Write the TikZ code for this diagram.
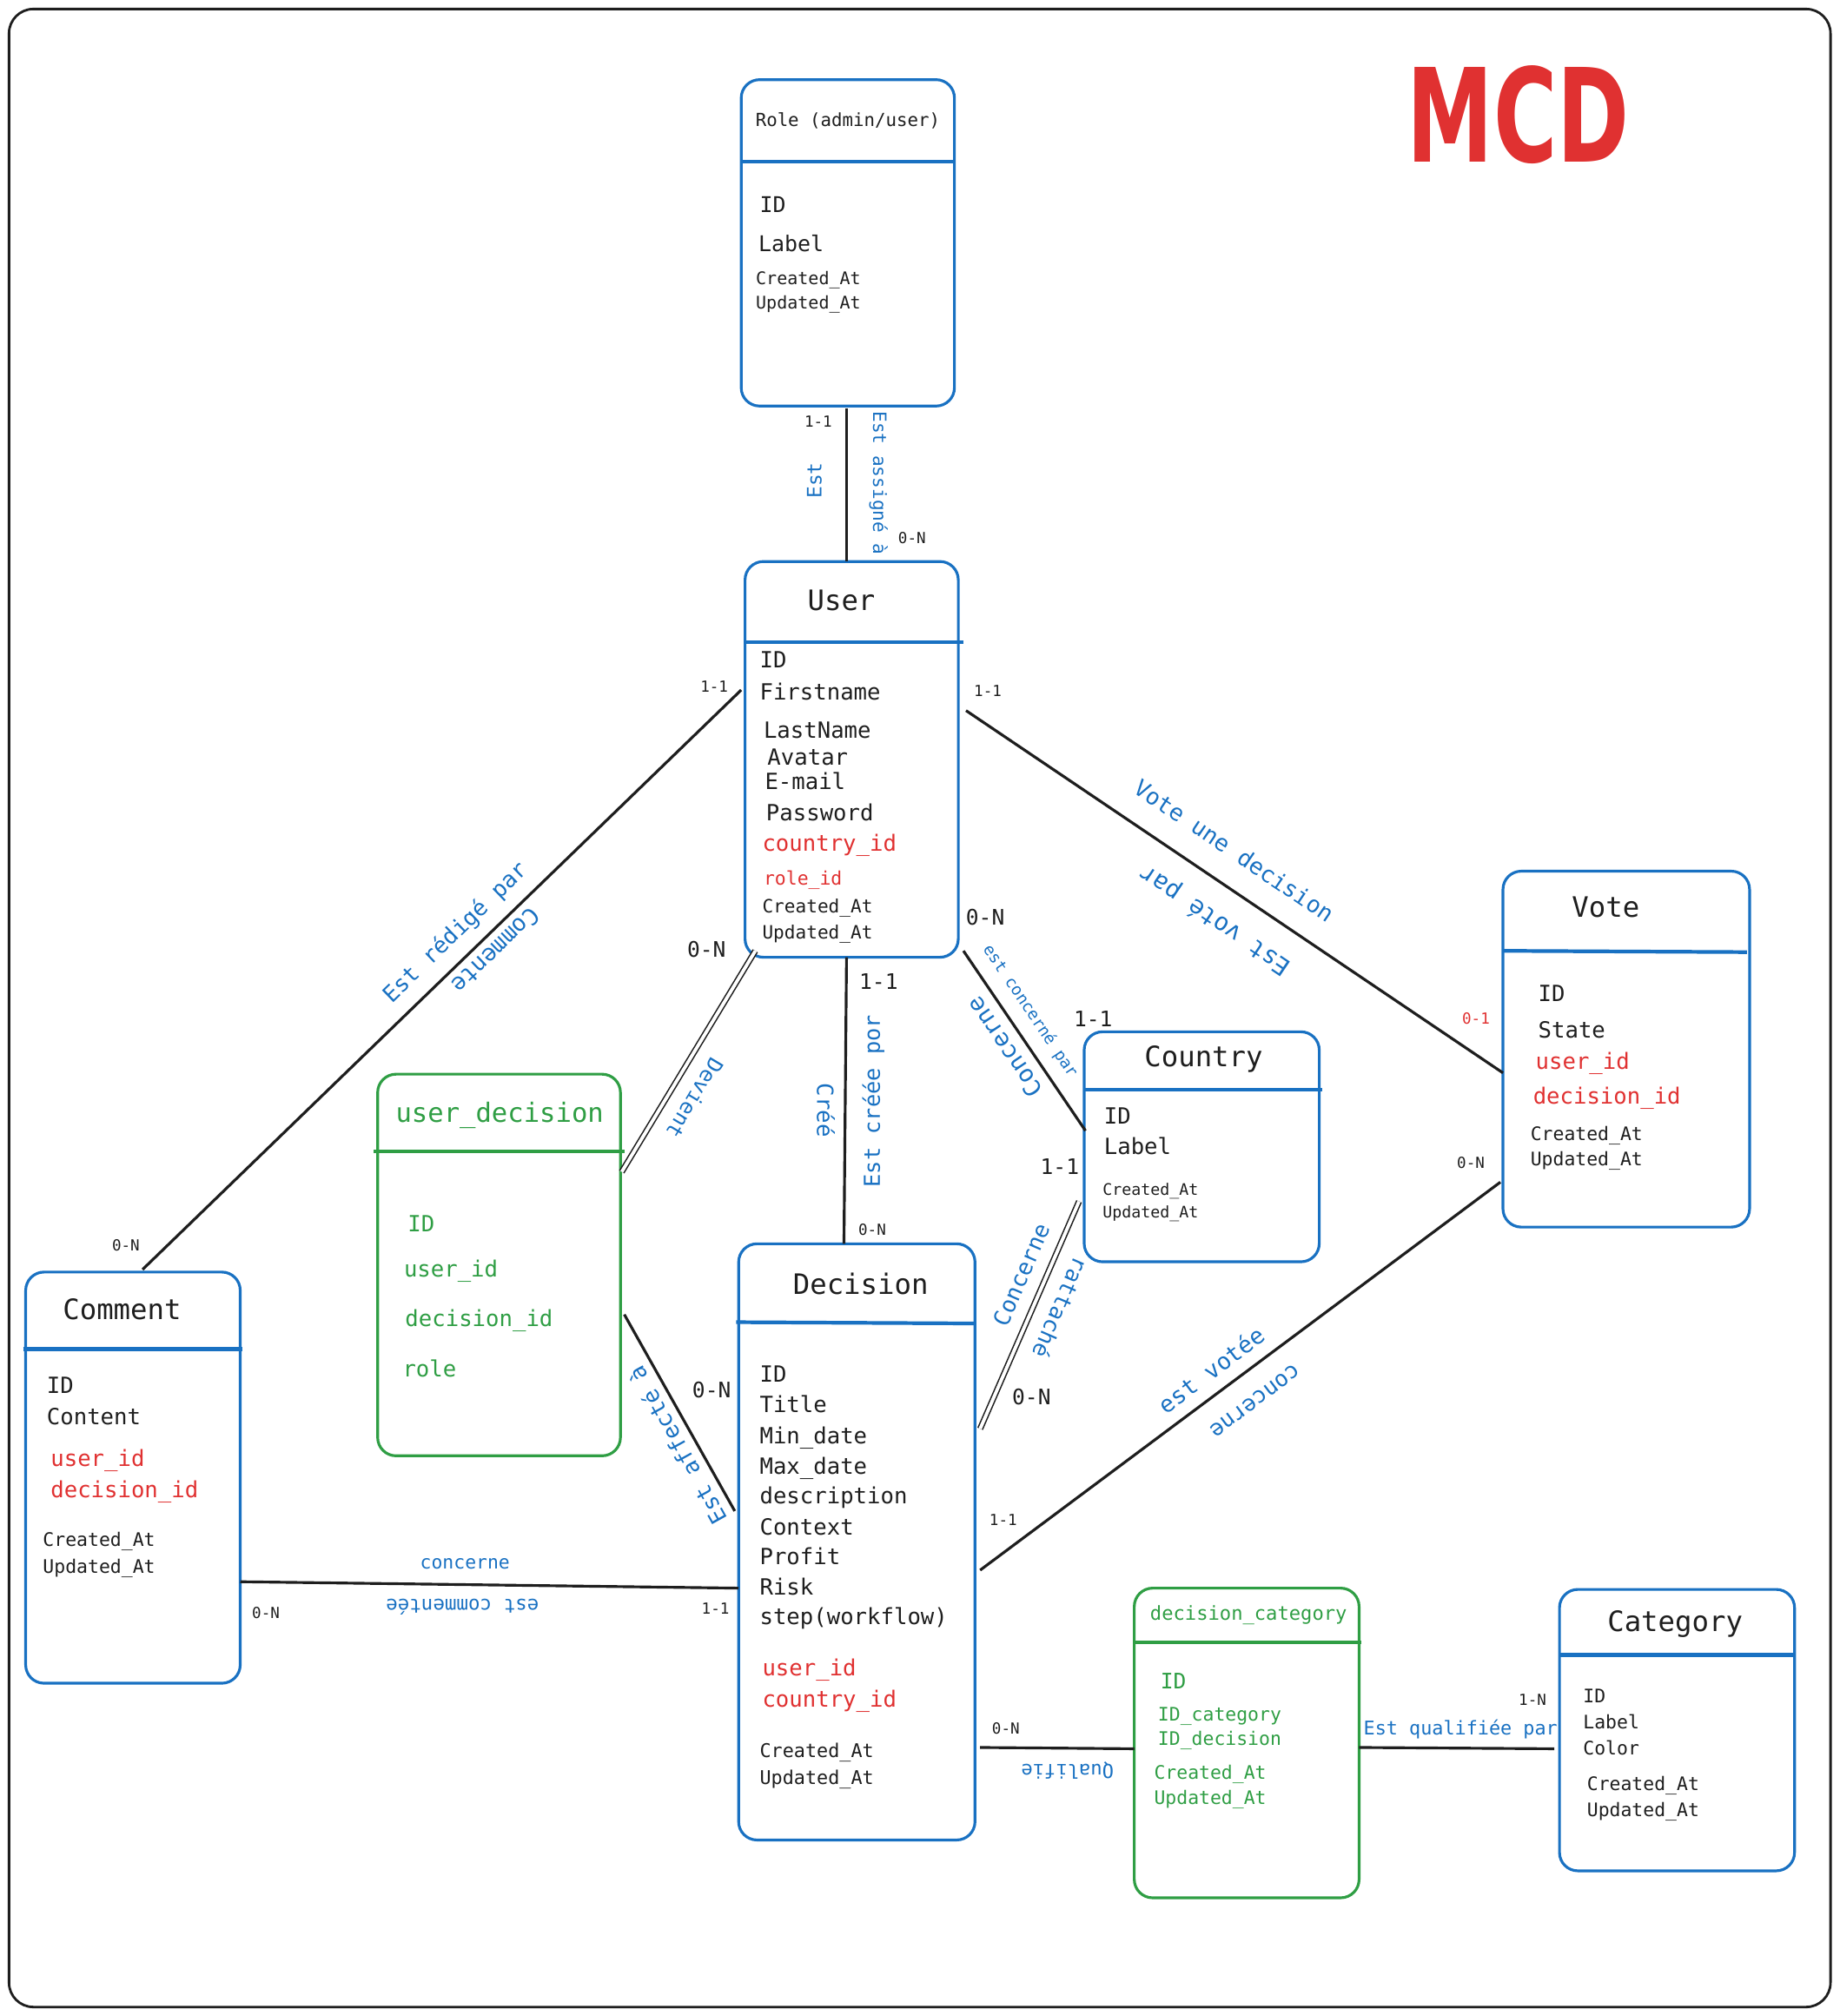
\documentclass[tikz,border=0pt]{standalone}
\usepackage{fontspec}
\usepackage{graphicx}
\setmainfont{DejaVu Sans Mono}
\newfontfamily\mcdfont{DejaVu Sans}
\usetikzlibrary{fit}
\definecolor{eblue}{HTML}{1971C2}
\definecolor{ered}{HTML}{E03131}
\definecolor{egreen}{HTML}{2F9E44}
\definecolor{eblack}{HTML}{1E1E1E}
\begin{document}
\begin{tikzpicture}[x=0.01479cm,y=-0.01479cm,
  ent/.style={draw=#1, line width=0.9pt, rounded corners=6pt, inner sep=0pt},
  hdr/.style={draw=#1, line width=1.2pt},
  link/.style={draw=eblack, line width=0.9pt},
  dlink/.style={draw=eblack, line width=0.45pt, double, double distance=1.1pt},
  fs/.style={font=\fontsize{#1}{#1}\selectfont},
  ttl/.style={inner sep=0pt, text=eblack, fs=9.2},
  attr/.style={anchor=mid west, inner sep=0pt, text=eblack, fs=7.3},
  sm/.style={anchor=mid west, inner sep=0pt, text=eblack, fs=6},
  card/.style={inner sep=0pt, text=eblack, fs=5},
  bcard/.style={inner sep=0pt, text=eblack, fs=7},
  lbl/.style={inner sep=0pt, text=eblue, fs=7.3}
]
\useasboundingbox (0,0) rectangle (1432,1569);
\draw[eblack, line width=0.8pt, rounded corners=8pt] (7,7) rectangle (1425,1562);

% MCD
\node[text=ered, inner sep=0pt] (mcd) at (1182,89) {\resizebox{2.56cm}{1.11cm}{\mcdfont\bfseries MCD}};

% Role
\node[ent=eblue, fit={(577,62)(743,316)}] (role) {};
\draw[hdr=eblue] (577,126) -- (743,126);
\node[ttl, fs=5.9] (roleT) at (660,94) {Role (admin/user)};
\node[attr, fs=7.1] (role1) at (591,159) {ID};
\node[attr, fs=7.1] (role2) at (590,189) {Label};
\node[sm, fs=5.7] (role3) at (588,215) {Created\_At};
\node[sm, fs=5.7] (role4) at (588,234) {Updated\_At};

% User
\node[ent=eblue, fit={(580,437)(746,745)}] (user) {};
\draw[hdr=eblue] (580,500) -- (750,500);
\node[ttl] (userT) at (655,467) {User};
\node[attr] (user1) at (591,513) {ID};
\node[attr] (user2) at (591,538) {Firstname};
\node[attr] (user3) at (594,568) {LastName};
\node[attr] (user4) at (597,589) {Avatar};
\node[attr] (user5) at (595,608) {E-mail};
\node[attr] (user6) at (596,632) {Password};
\node[attr, text=ered] (user7) at (593,656) {country\_id};
\node[attr, text=ered, fs=6.1] (user8) at (594,682) {role\_id};
\node[sm] (user9) at (593,704) {Created\_At};
\node[sm] (user10) at (593,724) {Updated\_At};

% Vote
\node[ent=eblue, fit={(1170,678)(1362,955)}] (vote) {};
\draw[hdr=eblue] (1170,740) -- (1360,741);
\node[ttl] (voteT) at (1250,706) {Vote};
\node[attr] (vote1) at (1197,773) {ID};
\node[attr] (vote2) at (1197,801) {State};
\node[attr, text=ered] (vote3) at (1195,826) {user\_id};
\node[attr, text=ered] (vote4) at (1193,853) {decision\_id};
\node[sm, fs=6.1] (vote5) at (1191,881) {Created\_At};
\node[sm, fs=6.1] (vote6) at (1191,901) {Updated\_At};

% Country
\node[ent=eblue, fit={(844,803)(1027,982)}] (country) {};
\draw[hdr=eblue] (844,848) -- (1029,848);
\node[ttl] (countryT) at (937,824) {Country};
\node[attr] (country1) at (859,868) {ID};
\node[attr] (country2) at (859,892) {Label};
\node[sm, fs=5.2] (country3) at (858,924) {Created\_At};
\node[sm, fs=5.2] (country4) at (858,941) {Updated\_At};

% user_decision
\node[ent=egreen, fit={(294,836)(483,1133)}] (ud) {};
\draw[hdr=egreen] (291,896) -- (486,896);
\node[ttl, text=egreen, fs=8.7] (udT) at (389,868) {user\_decision};
\node[attr, text=egreen] (ud1) at (317,952) {ID};
\node[attr, text=egreen] (ud2) at (314,987) {user\_id};
\node[attr, text=egreen] (ud3) at (315,1026) {decision\_id};
\node[attr, text=egreen] (ud4) at (313,1065) {role};

% Comment
\node[ent=eblue, fit={(20,990)(187,1310)}] (comment) {};
\draw[hdr=eblue] (18,1050) -- (189,1050);
\node[ttl] (commentT) at (95,1019) {Comment};
\node[attr] (comment1) at (36,1078) {ID};
\node[attr] (comment2) at (36,1102) {Content};
\node[attr, text=ered] (comment3) at (39,1135) {user\_id};
\node[attr, text=ered] (comment4) at (39,1159) {decision\_id};
\node[sm, fs=6.1] (comment5) at (33,1197) {Created\_At};
\node[sm, fs=6.1] (comment6) at (33,1218) {Updated\_At};

% Decision
\node[ent=eblue, fit={(575,968)(759,1432)}] (decision) {};
\draw[hdr=eblue] (573,1029) -- (759,1030);
\node[ttl] (decisionT) at (670,999) {Decision};
\node[attr] (dec1) at (591,1069) {ID};
\node[attr] (dec2) at (591,1093) {Title};
\node[attr] (dec3) at (591,1117) {Min\_date};
\node[attr] (dec4) at (591,1141) {Max\_date};
\node[attr] (dec5) at (591,1164) {description};
\node[attr] (dec6) at (591,1188) {Context};
\node[attr] (dec7) at (591,1211) {Profit};
\node[attr] (dec8) at (591,1235) {Risk};
\node[attr] (dec9) at (591,1258) {step(workflow)};
\node[attr, text=ered] (dec10) at (593,1298) {user\_id};
\node[attr, text=ered] (dec11) at (593,1322) {country\_id};
\node[sm, fs=6.2] (dec12) at (591,1361) {Created\_At};
\node[sm, fs=6.2] (dec13) at (591,1382) {Updated\_At};

% decision_category
\node[ent=egreen, fit={(883,1236)(1058,1477)}] (dc) {};
\draw[hdr=egreen] (883,1278) -- (1060,1278);
\node[ttl, text=egreen, fs=6.3] (dcT) at (972,1257) {decision\_category};
\node[attr, text=egreen, fs=7] (dc1) at (903,1308) {ID};
\node[sm, text=egreen, fs=6.1] (dc2) at (901,1333) {ID\_category};
\node[sm, text=egreen, fs=6.1] (dc3) at (901,1352) {ID\_decision};
\node[sm, text=egreen, fs=6.1] (dc4) at (898,1378) {Created\_At};
\node[sm, text=egreen, fs=6.1] (dc5) at (898,1398) {Updated\_At};

% Category
\node[ent=eblue, fit={(1214,1237)(1397,1456)}] (category) {};
\draw[hdr=eblue] (1214,1288) -- (1397,1288);
\node[ttl] (categoryT) at (1304,1264) {Category};
\node[sm, fs=6.1] (cat1) at (1232,1319) {ID};
\node[sm, fs=6.1] (cat2) at (1232,1339) {Label};
\node[sm, fs=6.1] (cat3) at (1232,1359) {Color};
\node[sm, fs=6.1] (cat4) at (1235,1387) {Created\_At};
\node[sm, fs=6.1] (cat5) at (1235,1407) {Updated\_At};

% connector end points
\coordinate (roleS) at (659,318);   \coordinate (userN) at (659,437);
\coordinate (userW) at (577,537);   \coordinate (commentN) at (111,988);
\coordinate (userSW) at (588,740);  \coordinate (udNE) at (484,912);
\coordinate (userS) at (659,745);   \coordinate (decisionN) at (657,968);
\coordinate (userSE) at (750,740);  \coordinate (countryW) at (845,880);
\coordinate (userE) at (752,553);   \coordinate (voteW) at (1170,835);
\coordinate (decisionNE) at (763,1112); \coordinate (countrySW) at (840,935);
\coordinate (decisionE) at (763,1222);  \coordinate (voteSW) at (1168,920);
\coordinate (udE) at (486,1023);    \coordinate (decisionW) at (572,1176);
\coordinate (commentE) at (187,1231); \coordinate (decisionW2) at (575,1236);
\coordinate (decisionE2) at (763,1360); \coordinate (dcW) at (883,1361);
\coordinate (dcE) at (1058,1360);   \coordinate (categoryW) at (1210,1361);

% connectors
\draw[link] (roleS) -- (userN);
\draw[link] (userW) -- (commentN);
\draw[dlink] (userSW) -- (udNE);
\draw[link] (userS) -- (decisionN);
\draw[link] (userSE) -- (countryW);
\draw[link] (userE) -- (voteW);
\draw[dlink] (decisionNE) -- (countrySW);
\draw[link] (decisionE) -- (voteSW);
\draw[link] (udE) -- (decisionW);
\draw[link] (commentE) -- (decisionW2);
\draw[link] (decisionE2) -- (dcW);
\draw[link] (dcE) -- (categoryW);

% connector labels
\node[lbl, fs=6.5, rotate=90] (l1) at (634,374) {Est};
\node[lbl, fs=6, rotate=-90] (l2) at (684,376) {Est assigné à};
\node[lbl, fs=7.4, rotate=44] (l3) at (355,726) {Est rédigé par};
\node[lbl, fs=7.6, rotate=224] (l4) at (386,740) {Commente};
\node[lbl, fs=6.9, rotate=-121] (l5) at (541,855) {Devient};
\node[lbl, fs=7.3, rotate=-90] (l6) at (643,864) {Créé};
\node[lbl, fs=7.2, rotate=90] (l7) at (680,857) {Est créée por};
\node[lbl, fs=5.3, rotate=-56] (l8) at (802,787) {est concerné par};
\node[lbl, fs=7.8, rotate=124] (l9) at (782,815) {Concerne};
\node[lbl, fs=7.5, rotate=-34] (l10) at (961,662) {Vote une decision};
\node[lbl, fs=8, rotate=146] (l11) at (946,716) {Est voté par};
\node[lbl, fs=7.4, rotate=66.5] (l12) at (795,992) {Concerne};
\node[lbl, fs=7.3, rotate=-113.5] (l13) at (826,1018) {rattaché};
\node[lbl, fs=7.6, rotate=37] (l14) at (943,1066) {est votée};
\node[lbl, fs=7.3, rotate=217] (l15) at (977,1090) {concerne};
\node[lbl, fs=7.4, rotate=119] (l16) at (527,1125) {Est affecté à};
\node[lbl, fs=6.1] (l17) at (362,1217) {concerne};
\node[lbl, fs=6.4, rotate=180] (l18) at (360,1251) {est commentée};
\node[lbl, fs=6.3, rotate=180] (l19) at (831,1378) {Qualifie};
\node[lbl, fs=6.2] (l20) at (1137,1346) {Est qualifiée par};

% cardinalities
\node[card] (c1) at (637,328) {1-1};
\node[card] (c2) at (710,419) {0-N};
\node[card] (c3) at (556,534) {1-1};
\node[card] (c4) at (98,969) {0-N};
\node[card] (c5) at (769,538) {1-1};
\node[card, text=ered] (c6) at (1149,793) {0-1};
\node[card] (c7) at (679,957) {0-N};
\node[card] (c8) at (1145,905) {0-N};
\node[card] (c9) at (781,1183) {1-1};
\node[card] (c10) at (207,1255) {0-N};
\node[card] (c11) at (557,1252) {1-1};
\node[card] (c12) at (783,1345) {0-N};
\node[card] (c13) at (1193,1323) {1-N};
\node[bcard] (c14) at (550,739) {0-N};
\node[bcard] (c15) at (767,714) {0-N};
\node[bcard] (c16) at (684,764) {1-1};
\node[bcard] (c17) at (851,793) {1-1};
\node[bcard] (c18) at (825,908) {1-1};
\node[bcard] (c19) at (803,1087) {0-N};
\node[bcard] (c20) at (554,1082) {0-N};
\end{tikzpicture}
\end{document}
